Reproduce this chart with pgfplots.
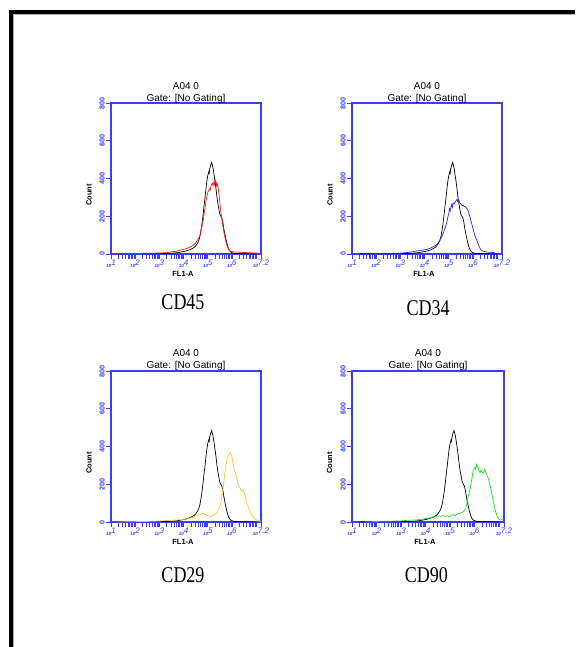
\documentclass[border=0pt]{standalone}
\usepackage{fontspec}
\setmainfont{Liberation Sans}
\newfontfamily\cdfont{Liberation Serif}
\usepackage{graphicx}
\usepackage{pgfplots}
\usepackage{pgfplotstable}
\pgfplotsset{compat=1.18}

\definecolor{fcsblue}{RGB}{60,60,255}
\definecolor{cdred}{RGB}{255,20,20}
\definecolor{cdblue}{RGB}{40,40,255}
\definecolor{cdyellow}{RGB}{255,200,40}
\definecolor{cdgreen}{RGB}{20,230,20}

% x in decades (log10 of FL1-A), y = count
\pgfplotstableread{
L v
1.3 0
2.0 2
2.5 1
3.0 2
3.3 3
3.6 5
3.8 8
3.95 12
4.05 14
4.15 18
4.25 22
4.35 28
4.45 36
4.52 46
4.58 58
4.63 72
4.68 95
4.72 125
4.76 160
4.80 200
4.84 250
4.88 290
4.92 340
4.96 385
5.00 415
5.04 435
5.06 428
5.08 452
5.12 470
5.16 485
5.19 470
5.22 455
5.26 420
5.30 385
5.34 345
5.38 300
5.42 265
5.46 235
5.50 210
5.54 200
5.58 192
5.62 170
5.66 138
5.70 110
5.74 85
5.78 62
5.82 42
5.86 28
5.90 18
5.95 10
6.02 6
6.1 3
6.3 2
6.6 1
7.0 0
}\ctrl

\pgfplotstableread{
L v
1.2 0
1.6 3
2.0 2
2.5 4
3.0 5
3.3 7
3.55 12
3.7 15
3.87 21
4.0 24
4.15 30
4.28 38
4.38 44
4.45 52
4.52 62
4.58 75
4.64 88
4.70 110
4.74 135
4.78 160
4.82 185
4.86 220
4.90 255
4.94 290
4.98 315
5.01 330
5.04 335
5.07 345
5.10 338
5.13 360
5.16 370
5.19 375
5.22 362
5.25 380
5.28 368
5.31 392
5.34 385
5.37 360
5.40 372
5.43 350
5.46 320
5.50 270
5.54 225
5.58 190
5.62 155
5.66 122
5.70 95
5.75 65
5.80 42
5.86 25
5.92 16
6.0 12
6.2 10
6.5 8
6.8 6
7.0 5
7.2 4
}\cdfortyfive

\pgfplotstableread{
L v
1.4 0
2.0 3
2.5 2
3.0 4
3.3 8
3.5 12
3.67 16
3.8 18
3.95 21
4.1 25
4.22 30
4.35 38
4.45 45
4.52 52
4.58 62
4.64 74
4.70 90
4.77 110
4.84 135
4.91 163
4.96 195
5.00 215
5.03 240
5.06 228
5.09 250
5.12 262
5.15 248
5.18 270
5.22 265
5.26 275
5.30 282
5.34 290
5.37 278
5.40 288
5.44 275
5.48 268
5.52 262
5.56 255
5.60 258
5.64 250
5.68 252
5.72 245
5.76 238
5.80 228
5.84 210
5.88 195
5.92 175
5.96 155
6.00 135
6.04 115
6.08 98
6.12 85
6.16 72
6.20 58
6.25 42
6.30 28
6.36 18
6.43 14
6.6 10
6.84 8
6.95 3
}\cdthirtyfour

\pgfplotstableread{
L v
1.3 0
2.0 2
2.5 3
3.0 5
3.3 8
3.5 9
3.71 11
3.85 12
3.99 14
4.1 16
4.27 20
4.4 26
4.5 33
4.58 38
4.65 35
4.72 42
4.78 46
4.84 44
4.90 40
4.95 38
5.00 34
5.05 30
5.10 28
5.16 32
5.23 37
5.30 40
5.37 48
5.42 60
5.47 72
5.51 85
5.55 108
5.58 135
5.61 162
5.64 190
5.68 228
5.71 262
5.75 295
5.78 322
5.82 340
5.86 352
5.90 362
5.93 368
5.96 358
6.00 345
6.03 318
6.06 298
6.10 278
6.14 262
6.18 240
6.22 220
6.26 195
6.30 185
6.34 178
6.38 168
6.42 162
6.46 170
6.50 158
6.54 142
6.58 122
6.62 100
6.67 82
6.72 65
6.78 48
6.85 32
6.92 22
7.0 12
7.1 6
7.2 3
}\cdtwentynine

\pgfplotstableread{
L v
1.5 0
2.0 3
2.5 4
3.0 6
3.3 9
3.64 11
3.9 16
4.18 21
4.3 26
4.45 28
4.55 32
4.65 30
4.72 34
4.80 30
4.88 33
4.95 28
5.0 30
5.05 36
5.13 38
5.2 34
5.27 40
5.34 44
5.40 46
5.47 50
5.54 55
5.58 62
5.62 68
5.66 82
5.70 105
5.74 135
5.78 155
5.82 178
5.86 205
5.90 238
5.94 270
5.98 282
6.02 290
6.05 280
6.08 305
6.11 292
6.15 286
6.18 270
6.22 262
6.26 275
6.29 268
6.33 262
6.36 258
6.39 270
6.42 280
6.46 262
6.50 250
6.54 238
6.58 222
6.62 200
6.66 178
6.70 152
6.74 125
6.78 100
6.82 78
6.86 56
6.90 38
6.95 25
7.0 15
7.05 10
7.1 12
7.15 18
7.2 22
}\cdninety

\newcommand\xl[1]{{\bfseries\itshape\fontsize{4.5}{5}\selectfont 10}\raisebox{1.8pt}{\itshape\fontsize{8}{8}\selectfont #1}}

\tikzset{
  ttl/.style={anchor=base, font=\fontsize{10}{11}\selectfont},
  cd/.style={font=\cdfont\fontsize{18}{18}\selectfont},
}

\pgfplotsset{
  fcs/.style={
    scale only axis, width=150pt, height=151pt, anchor=south west,
    xmin=1, xmax=7.2, ymin=0, ymax=800,
    axis line style={fcsblue, line width=1.1pt},
    xtick={1,2,3,4,5,6,7.2},
    xticklabels={\xl{1},\xl{2},\xl{3},\xl{4},\xl{5},\xl{6},\xl{7.2}},
    minor xtick={1.301,1.477,1.602,1.699,1.778,1.845,1.903,1.954,
      2.301,2.477,2.602,2.699,2.778,2.845,2.903,2.954,
      3.301,3.477,3.602,3.699,3.778,3.845,3.903,3.954,
      4.301,4.477,4.602,4.699,4.778,4.845,4.903,4.954,
      5.301,5.477,5.602,5.699,5.778,5.845,5.903,5.954,
      6.301,6.477,6.602,6.699,6.778,6.845,6.903,6.954,7},
    ytick={0,200,400,600,800},
    yticklabels={0,200,400,600,800},
    tick pos=left, tick align=outside,
    major tick length=5pt, minor tick length=5pt,
    every tick/.style={fcsblue, line width=0.7pt},
    x tick label style={text=fcsblue, inner sep=1pt},
    y tick label style={text=fcsblue, rotate=90, anchor=south, inner sep=1pt,
      font=\bfseries\fontsize{7.2}{8}\selectfont},
    xlabel={FL1-A},
    xlabel style={at={(rel axis cs:0.48,0)}, anchor=center, yshift=-20pt,
      font=\bfseries\fontsize{7.5}{8}\selectfont},
    ylabel={Count},
    ylabel style={at={(rel axis cs:-0.147,0.39)}, anchor=center,
      font=\bfseries\fontsize{7.5}{8}\selectfont},
    clip=false,
    every axis plot/.append style={line width=0.7pt, no marks},
  },
}

\begin{document}
\begin{tikzpicture}
\path[use as bounding box] (0pt,0pt) rectangle (575pt,647pt);
\fill[white] (0pt,0pt) rectangle (575pt,647pt);
% page frame
\draw[black, line width=4pt] (11pt,0pt) -- (11pt,635pt) -- (575pt,635pt);
\draw[gray!60, line width=0.8pt] (13.5pt,0pt) -- (13.5pt,632.6pt) -- (575pt,632.6pt);

\begin{axis}[fcs, at={(111pt,393pt)}]
\addplot[black] table[x=L,y=v]{\ctrl};
\addplot[cdred] table[x=L,y=v]{\cdfortyfive};
\node[ttl] at (rel axis cs:0.5,1) [yshift=2pt] {Gate: [No Gating]};
\node[ttl] at (rel axis cs:0.5,1) [yshift=13.5pt] {A04 0};
\node[cd] at (rel axis cs:0.48,0) [yshift=-48pt] {\scalebox{1}[1.25]{CD45}};
\end{axis}

\begin{axis}[fcs, at={(352pt,393pt)}]
\addplot[black] table[x=L,y=v]{\ctrl};
\addplot[cdblue] table[x=L,y=v]{\cdthirtyfour};
\node[ttl] at (rel axis cs:0.5,1) [yshift=2pt] {Gate: [No Gating]};
\node[ttl] at (rel axis cs:0.5,1) [yshift=13.5pt] {A04 0};
\node[cd] at (rel axis cs:0.507,0) [yshift=-54pt] {\scalebox{1}[1.25]{CD34}};
\end{axis}

\begin{axis}[fcs, at={(111pt,125pt)}]
\addplot[black] table[x=L,y=v]{\ctrl};
\addplot[cdyellow] table[x=L,y=v]{\cdtwentynine};
\node[ttl] at (rel axis cs:0.5,1) [yshift=3pt] {Gate: [No Gating]};
\node[ttl] at (rel axis cs:0.5,1) [yshift=15pt] {A04 0};
\node[cd] at (rel axis cs:0.48,0) [yshift=-53pt] {\scalebox{1}[1.25]{CD29}};
\end{axis}

\begin{axis}[fcs, at={(352pt,125pt)}, width=152pt]
\addplot[black] table[x=L,y=v]{\ctrl};
\addplot[cdgreen] table[x=L,y=v]{\cdninety};
\node[ttl] at (rel axis cs:0.5,1) [yshift=3pt] {Gate: [No Gating]};
\node[ttl] at (rel axis cs:0.5,1) [yshift=15pt] {A04 0};
\node[cd] at (rel axis cs:0.49,0) [yshift=-53pt] {\scalebox{1}[1.25]{CD90}};
\end{axis}
\end{tikzpicture}
\end{document}
